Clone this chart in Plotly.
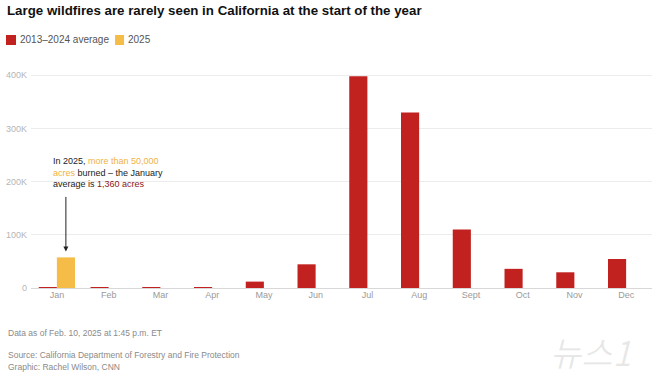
import plotly.graph_objects as go

months = ["Jan", "Feb", "Mar", "Apr", "May", "Jun", "Jul", "Aug", "Sept", "Oct", "Nov", "Dec"]
avg_2013_2024 = [1360, 900, 300, 1500, 12000, 44500, 398000, 330000, 110000, 36000, 29500, 54500]
months_2025 = ["Jan"]
acres_2025 = [57500]
ytick_vals = [0, 100000, 200000, 300000, 400000]
ytick_text = ["0", "100K", "200K", "300K", "400K"]

W, H = 658, 381
ML, MR, MT, MB = 31, 6.3, 73, 93
PW, PH = W - ML - MR, H - MT - MB

def px(x):
    return (x - ML) / PW

def py(y):
    return (H - MB - y) / PH

RED = "#c1211f"
YEL = "#f5bd47"
FONT = "Liberation Sans"

fig = go.Figure()
fig.add_trace(go.Bar(x=months, y=avg_2013_2024, name="2013–2024 average",
                     marker=dict(color=RED, line=dict(width=0)), hoverinfo="skip"))
fig.add_trace(go.Bar(x=months_2025, y=acres_2025, name="2025",
                     marker=dict(color=YEL, line=dict(width=0)), hoverinfo="skip"))

fig.update_layout(
    width=W, height=H,
    margin=dict(l=ML, r=MR, t=MT, b=MB),
    paper_bgcolor="white", plot_bgcolor="white",
    barmode="group", bargap=0.3, bargroupgap=0,
    showlegend=False,
    font=dict(family=FONT, color="#999"),
    xaxis=dict(categoryorder="array", categoryarray=months, range=[-0.5, 11.5],
               showgrid=False, showline=False, ticks="", zeroline=False,
               tickfont=dict(size=9, color="#9a9a9a")),
    yaxis=dict(range=[0, 404000], tickvals=ytick_vals, ticktext=ytick_text,
               showgrid=True, gridcolor="#ececec", gridwidth=1,
               zeroline=True, zerolinecolor="#d8d8d8", zerolinewidth=1,
               showline=False, ticks="", ticklabelstandoff=3,
               tickfont=dict(size=9, color="#b5b5b5")),
)

anns = []
# Title
anns.append(dict(text="<b>Large wildfires are rarely seen in California at the start of the year</b>",
                 xref="paper", yref="paper", x=px(5), y=py(10), xanchor="left", yanchor="middle",
                 showarrow=False, font=dict(size=13.3, color="#111", family=FONT)))
# Legend
fig.add_shape(type="rect", xref="paper", yref="paper", x0=px(6), x1=px(16), y0=py(45), y1=py(35),
              fillcolor=RED, line=dict(width=0))
fig.add_shape(type="rect", xref="paper", yref="paper", x0=px(115), x1=px(124), y0=py(45), y1=py(35),
              fillcolor=YEL, line=dict(width=0))
anns.append(dict(text="2013–2024 average", xref="paper", yref="paper", x=px(18), y=py(40),
                 xanchor="left", yanchor="middle", showarrow=False,
                 font=dict(size=10, color="#555", family=FONT)))
anns.append(dict(text="2025", xref="paper", yref="paper", x=px(126), y=py(40),
                 xanchor="left", yanchor="middle", showarrow=False,
                 font=dict(size=10, color="#555", family=FONT)))
# Callout text
anns.append(dict(text="In 2025, <span style='color:#f0b23f'>more than 50,000</span><br>"
                      "<span style='color:#f0b23f'>acres</span> burned – the January<br>"
                      "average is <span style='color:#8e1616'>1,360 acres</span>",
                 xref="paper", yref="paper", x=px(51), y=py(154), xanchor="left", yanchor="top",
                 align="left", showarrow=False,
                 font=dict(size=9, color="#222", family=FONT)))
# Arrow
anns.append(dict(text="", x="Jan", y=acres_2025[0], xref="x", yref="y", xshift=9,
                 showarrow=True, arrowhead=2, arrowsize=1, arrowwidth=1, arrowcolor="#222",
                 standoff=6, ax=0, ay=-62))
# Footer
anns.append(dict(text="Data as of Feb. 10, 2025 at 1:45 p.m. ET", xref="paper", yref="paper",
                 x=px(6), y=py(333), xanchor="left", yanchor="middle", showarrow=False,
                 font=dict(size=8.5, color="#8a8a8a", family=FONT)))
anns.append(dict(text="Source: California Department of Forestry and Fire Protection", xref="paper", yref="paper",
                 x=px(6), y=py(355), xanchor="left", yanchor="middle", showarrow=False,
                 font=dict(size=8.5, color="#8a8a8a", family=FONT)))
anns.append(dict(text="Graphic: Rachel Wilson, CNN", xref="paper", yref="paper",
                 x=px(6), y=py(367), xanchor="left", yanchor="middle", showarrow=False,
                 font=dict(size=8.5, color="#8a8a8a", family=FONT)))
# Watermark
anns.append(dict(text="<i>뉴스1</i>", xref="paper", yref="paper",
                 x=px(590), y=py(351), xanchor="center", yanchor="middle", showarrow=False,
                 font=dict(size=34, color="rgba(0,0,0,0.09)", family="Noto Sans CJK KR")))
fig.update_layout(annotations=anns)

fig.write_html("out.html", config={"displayModeBar": False},
               post_script="document.body.style.margin='0';")
